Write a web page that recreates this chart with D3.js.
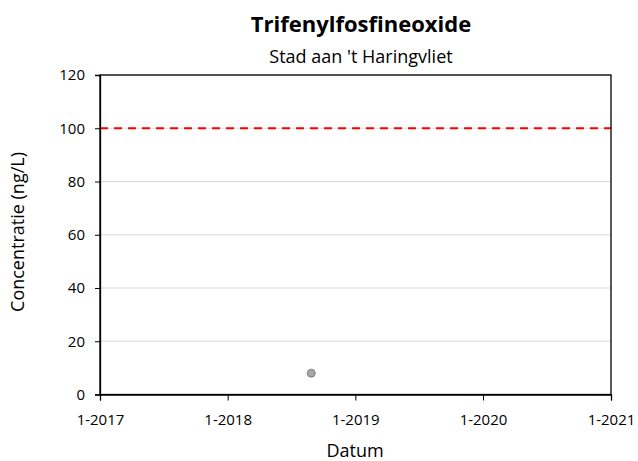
<!DOCTYPE html>
<html><head><meta charset="utf-8">
<script src="https://cdn.jsdelivr.net/npm/d3@7"></script>
<style>body{margin:0;background:#fff;} text{font-family:"Open Sans",sans-serif;}</style>
</head><body>
<svg id="c" width="638" height="461"></svg>
<script>
const title = "Trifenylfosfineoxide";
const subtitle = "Stad aan 't Haringvliet";
const yTicks = [0, 20, 40, 60, 80, 100, 120];
const xTickDates = ["2017-01-01", "2018-01-01", "2019-01-01", "2020-01-01", "2021-01-01"];
const xTickLabels = ["1-2017", "1-2018", "1-2019", "1-2020", "1-2021"];
const pointDates = ["2018-08-28"];
const pointValues = [8];
const limitValue = 100;

const svg = d3.select("#c");
const m = {l: 100, r: 611, t: 75, b: 394.5};
const parse = d3.utcParse("%Y-%m-%d");
const x = d3.scaleUtc().domain([parse(xTickDates[0]), parse(xTickDates[xTickDates.length-1])]).range([m.l, m.r]);
const y = d3.scaleLinear().domain([0, 120]).range([m.b, m.t]);

// gridlines
svg.append("g").selectAll("line").data(yTicks.filter(d => d > 0)).join("line")
  .attr("x1", m.l).attr("x2", m.r).attr("y1", d => y(d)).attr("y2", d => y(d))
  .attr("stroke", "#d9d9d9").attr("stroke-width", 1);

// limit line
svg.append("line").attr("x1", m.l).attr("x2", m.r).attr("y1", y(limitValue)).attr("y2", y(limitValue))
  .attr("stroke", "#ff0000").attr("stroke-width", 2).attr("stroke-dasharray", "8,6");

// border
svg.append("rect").attr("x", m.l).attr("y", m.t).attr("width", m.r - m.l).attr("height", m.b - m.t)
  .attr("fill", "none").attr("stroke", "#000").attr("stroke-width", 1.3);

// y axis
const ya = svg.append("g").attr("transform", `translate(${m.l},0)`)
  .call(d3.axisLeft(y).tickValues(yTicks).tickSize(5).tickPadding(10));
ya.select(".domain").attr("stroke-width", 1.3);
ya.selectAll("text").attr("font-size", 15).attr("fill", "#000").attr("font-family", "Open Sans");

// x axis
const xa = svg.append("g").attr("transform", `translate(0,${m.b})`)
  .call(d3.axisBottom(x).tickValues(xTickDates.map(parse)).tickFormat((d, i) => xTickLabels[i]).tickSize(6).tickPadding(14));
xa.select(".domain").attr("stroke-width", 1.3);
xa.selectAll("text").attr("font-size", 15).attr("fill", "#000").attr("font-family", "Open Sans");

// points
svg.append("g").selectAll("circle").data(pointDates.map((d, i) => ({d: parse(d), v: pointValues[i]}))).join("circle")
  .attr("cx", p => x(p.d)).attr("cy", p => y(p.v)).attr("r", 4)
  .attr("fill", "#a6a6a6").attr("stroke", "#7f7f7f").attr("stroke-width", 1);

// titles
svg.append("text").attr("x", 361).attr("y", 32).attr("text-anchor", "middle")
  .attr("font-size", 22).attr("font-weight", "bold").text(title);
svg.append("text").attr("x", 361).attr("y", 63).attr("text-anchor", "middle")
  .attr("font-size", 18).text(subtitle);
svg.append("text").attr("x", 355).attr("y", 457).attr("text-anchor", "middle")
  .attr("font-size", 18).text("Datum");
svg.append("text").attr("transform", "translate(24,232) rotate(-90)").attr("text-anchor", "middle")
  .attr("font-size", 18).text("Concentratie (ng/L)");
</script>
</body></html>
